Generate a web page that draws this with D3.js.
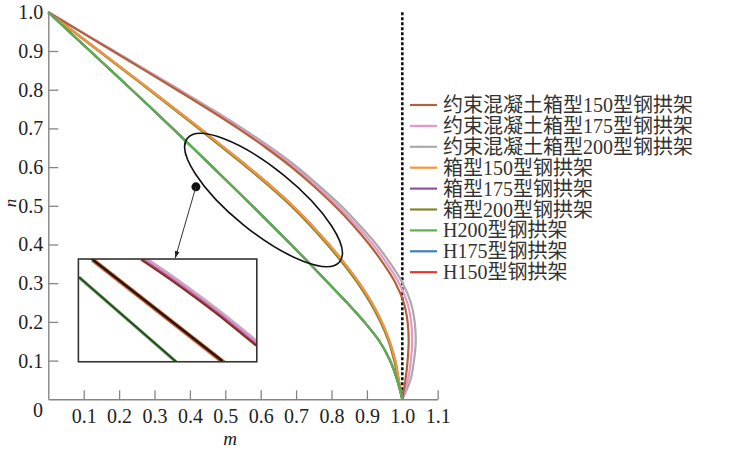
<!DOCTYPE html>
<html><head><meta charset="utf-8">
<script src="https://cdn.jsdelivr.net/npm/d3@7"></script>
<style>body{margin:0;background:#fff}svg{display:block}</style>
</head><body>
<svg id="chart" width="736" height="451"></svg>
<script>
// ---------- data ----------
const nLevels = [1.0,0.95,0.9,0.85,0.8,0.75,0.7,0.65,0.6,0.55,0.5,0.45,0.4,0.35,0.3,0.25,0.2,0.15,0.1,0.05,0.0];
const seriesNames = ["约束混凝土箱型150型钢拱架","约束混凝土箱型175型钢拱架","约束混凝土箱型200型钢拱架",
  "箱型150型钢拱架","箱型175型钢拱架","箱型200型钢拱架","H200型钢拱架","H175型钢拱架","H150型钢拱架"];
const seriesColors = ["#b0623a","#e797c6","#aaaaaa","#f2963a","#9050a0","#85852e","#5bb04a","#3f7fc0","#e03a2e"];
// m values for each n level
const mCB150 = [0,0.091,0.182,0.2725,0.3625,0.451,0.536,0.615,0.687,0.751,0.809,0.861,0.907,0.947,0.981,1.004,1.015,1.018,1.015,1.009,1.0];
const mCB175 = [0,0.092,0.184,0.2755,0.3665,0.456,0.542,0.622,0.695,0.759,0.818,0.870,0.917,0.957,0.991,1.014,1.025,1.028,1.024,1.016,1.0];
const mCB200 = [0,0.093,0.186,0.2785,0.3705,0.461,0.548,0.629,0.703,0.767,0.827,0.879,0.927,0.967,1.001,1.024,1.035,1.038,1.033,1.023,1.0];
const mB150  = [0,0.072,0.144,0.216,0.2875,0.3585,0.4285,0.497,0.565,0.630,0.690,0.744,0.793,0.838,0.8785,0.9135,0.942,0.964,0.980,0.990,1.0];
const mB175  = [0,0.072,0.144,0.216,0.2875,0.3585,0.4285,0.497,0.565,0.630,0.690,0.744,0.793,0.838,0.8785,0.9135,0.942,0.964,0.980,0.990,1.0];
const mB200  = [0,0.071,0.142,0.2135,0.284,0.3545,0.424,0.492,0.560,0.625,0.685,0.739,0.788,0.833,0.874,0.909,0.938,0.961,0.977,0.988,1.0];
const mH200  = [0,0.059,0.118,0.177,0.2355,0.2935,0.351,0.408,0.4645,0.5205,0.576,0.631,0.6855,0.739,0.7915,0.8435,0.8925,0.9355,0.9655,0.9855,1.0];
const mH175  = [0,0.059,0.118,0.177,0.2355,0.2935,0.351,0.408,0.4645,0.5205,0.576,0.631,0.6855,0.739,0.7915,0.8435,0.8925,0.9355,0.9655,0.9855,1.0];
const mH150  = [0,0.059,0.118,0.177,0.2355,0.2935,0.351,0.408,0.4645,0.5205,0.576,0.631,0.6855,0.739,0.7915,0.8435,0.8925,0.9355,0.9655,0.9855,1.0];
const seriesM = [mCB150,mCB175,mCB200,mB150,mB175,mB200,mH200,mH175,mH150];
const drawOrder = [2,1,0,4,5,3,8,7,6];
const xTicks = [0.1,0.2,0.3,0.4,0.5,0.6,0.7,0.8,0.9,1.0,1.1];
const yTicks = [0.1,0.2,0.3,0.4,0.5,0.6,0.7,0.8,0.9,1.0];
// annotation (data coordinates)
const ellipseCenter = [0.608, 0.515];
const dotPoint = [0.417, 0.549];
const insetBox = {m0:0.085, m1:0.589, n0:0.097, n1:0.3625};
// inset curves, local 0-100 coordinates
const insetLow  = [[0,82.8],[54.8,0]];
const insetMid  = [[7.5,100],[81.1,0]];
const insetHigh = [[35.5,100],[52,80.5],[68.2,60],[84,39],[100,16.3]];

// ---------- drawing ----------
const svg = d3.select("#chart");
const x = d3.scaleLinear().domain([0,1.1]).range([48.3,437.7]);
const y = d3.scaleLinear().domain([0,1]).range([399.3,12.3]);
const FONT = "'Liberation Serif','Times New Roman','Noto Sans CJK SC',serif";
const axisColor = "#858585";

// x axis
const gx = svg.append("g").attr("transform",`translate(0,${y(0)})`)
  .call(d3.axisBottom(x).tickValues(xTicks).tickFormat(d3.format(".1f")).tickSize(-9).tickSizeOuter(0).tickPadding(10));
// y axis
const gy = svg.append("g").attr("transform",`translate(${x(0)},0)`)
  .call(d3.axisLeft(y).tickValues(yTicks).tickFormat(d3.format(".1f")).tickSize(-10).tickSizeOuter(0).tickPadding(5));
[gx,gy].forEach(g=>{
  g.select(".domain").attr("stroke",axisColor).attr("stroke-width",1.4);
  g.selectAll(".tick line").attr("stroke",axisColor).attr("stroke-width",1.3);
  g.selectAll(".tick text").attr("fill","#222").style("font-family",FONT).style("font-size","20px");
});
gy.selectAll(".tick").filter(d=>d===1.0).select("line").remove();
svg.append("text").attr("x",38).attr("y",417).attr("text-anchor","middle")
  .style("font-family",FONT).style("font-size","20px").attr("fill","#222").text("0");
svg.append("text").attr("x",230).attr("y",445).attr("text-anchor","middle")
  .style("font-family",FONT).style("font-size","19px").style("font-style","italic").attr("fill","#222").text("m");
svg.append("text").attr("transform","translate(15.5,203) rotate(-90)").attr("text-anchor","middle")
  .style("font-family",FONT).style("font-size","17px").style("font-style","italic").attr("fill","#222").text("n");

// dashed line m = 1
svg.append("line").attr("x1",x(1)).attr("x2",x(1)).attr("y1",y(1)).attr("y2",y(0))
  .attr("stroke","#111").attr("stroke-width",2.6).attr("stroke-dasharray","3,2");

// curves
const line = d3.line().x(d=>x(d[0])).y(d=>y(d[1])).curve(d3.curveCatmullRom.alpha(0.5));
drawOrder.forEach(i=>{
  const pts = nLevels.map((n,k)=>[seriesM[i][k], n]);
  svg.append("path").datum(pts).attr("d",line).attr("fill","none")
    .attr("stroke",seriesColors[i]).attr("stroke-width",2.2);
});

// ellipse annotation
svg.append("ellipse").attr("cx",0).attr("cy",0).attr("rx",98).attr("ry",32)
  .attr("transform",`translate(${x(ellipseCenter[0])},${y(ellipseCenter[1])}) rotate(39)`)
  .attr("fill","none").attr("stroke","#111").attr("stroke-width",1.6);
svg.append("circle").attr("cx",x(dotPoint[0])).attr("cy",y(dotPoint[1])).attr("r",4.5).attr("fill","#111");

// arrow
const defs = svg.append("defs");
defs.append("marker").attr("id","arr").attr("viewBox","0 0 10 10").attr("refX",10).attr("refY",5)
  .attr("markerWidth",7).attr("markerHeight",7).attr("orient","auto-start-reverse")
  .append("path").attr("d","M0,1.5 L10,5 L0,8.5 Z").attr("fill","#222");
const tipX = x(insetBox.m0) + 0.543*(x(insetBox.m1)-x(insetBox.m0));
svg.append("line").attr("x1",x(dotPoint[0])).attr("y1",y(dotPoint[1]))
  .attr("x2",tipX).attr("y2",y(insetBox.n1)-1)
  .attr("stroke","#333").attr("stroke-width",1).attr("marker-end","url(#arr)");

// inset
const ix = d3.scaleLinear().domain([0,100]).range([x(insetBox.m0), x(insetBox.m1)]);
const iy = d3.scaleLinear().domain([0,100]).range([y(insetBox.n0), y(insetBox.n1)]);
defs.append("clipPath").attr("id","insetClip").append("rect")
  .attr("x",x(insetBox.m0)).attr("y",y(insetBox.n1))
  .attr("width",x(insetBox.m1)-x(insetBox.m0)).attr("height",y(insetBox.n0)-y(insetBox.n1));
const ig = svg.append("g").attr("clip-path","url(#insetClip)");
const iline = d3.line().x(d=>ix(d[0])).y(d=>iy(d[1])).curve(d3.curveCatmullRom.alpha(0.5));
function insetPath(data, color, w, dx, dy, op){
  ig.append("path").datum(data).attr("d",iline).attr("fill","none")
    .attr("stroke",color).attr("stroke-width",w).attr("opacity",op||1)
    .attr("transform",`translate(${dx},${dy})`);
}
insetPath(insetLow,"#5aa04a",3.2,0.6,0.6);
insetPath(insetLow,"#2b3a2b",1.4,-0.4,-0.4);
insetPath(insetMid,"#e8602c",4.6,0.8,0.8);
insetPath(insetMid,"#1a1a1a",2.4,-0.5,-0.5);
insetPath(insetHigh,"#bdbdbd",1.6,2.6,-2.6);
insetPath(insetHigh,"#e28fc2",2.2,1.6,-1.6);
insetPath(insetHigh,"#9a5aa8",1.3,0.5,-0.5);
insetPath(insetHigh,"#8a2a20",2.2,-0.6,0.6);
svg.append("rect").attr("x",x(insetBox.m0)).attr("y",y(insetBox.n1))
  .attr("width",x(insetBox.m1)-x(insetBox.m0)).attr("height",y(insetBox.n0)-y(insetBox.n1))
  .attr("fill","none").attr("stroke","#333").attr("stroke-width",1.6);

// legend
const lg = svg.append("g");
seriesNames.forEach((name,i)=>{
  const yy = 105 + 20.9*i;
  lg.append("line").attr("x1",410).attr("x2",437).attr("y1",yy).attr("y2",yy)
    .attr("stroke",seriesColors[i]).attr("stroke-width",2.2);
  lg.append("text").attr("x",443).attr("y",yy).attr("dy","0.35em")
    .style("font-family",FONT).style("font-size","20px").attr("fill","#333").text(name);
});
</script>
</body></html>
